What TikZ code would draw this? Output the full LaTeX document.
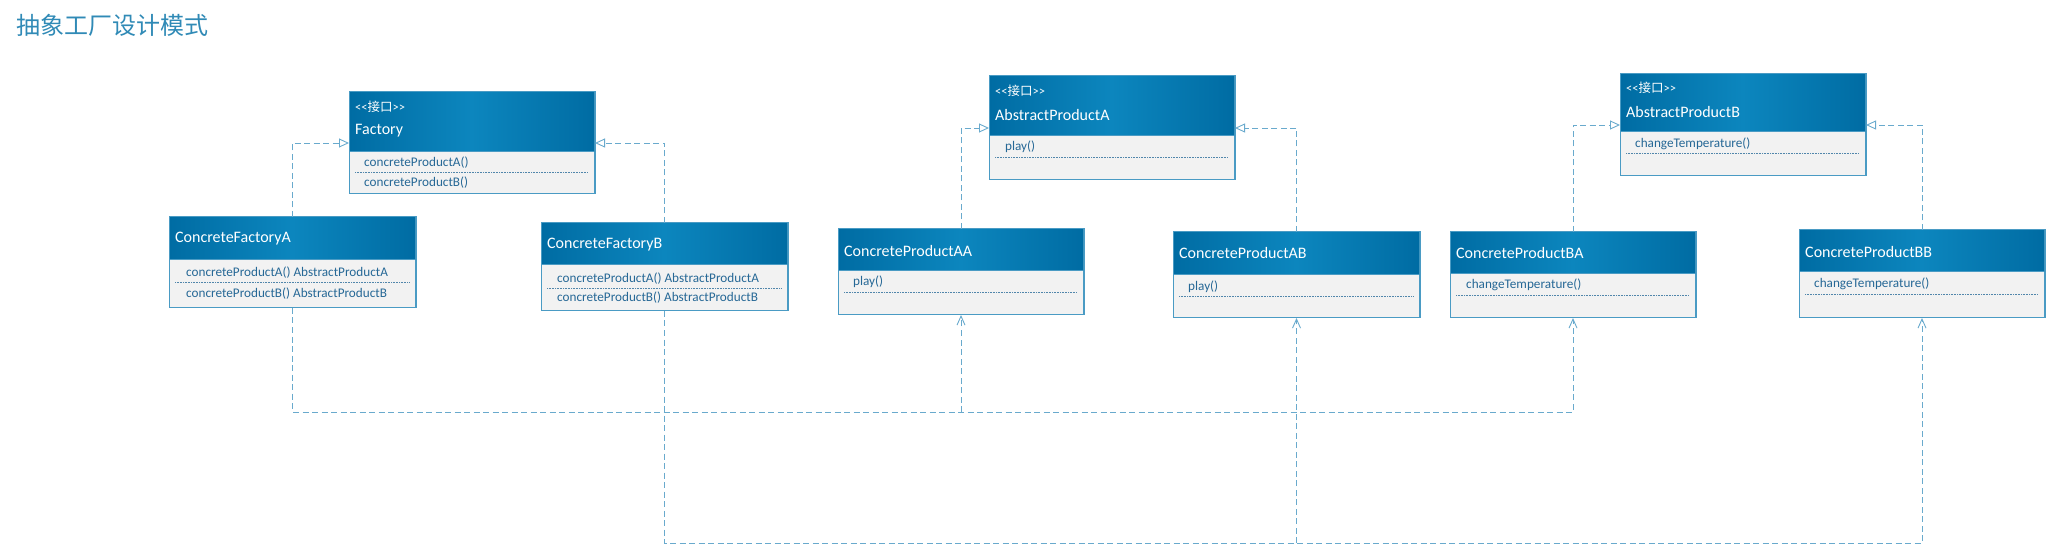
\documentclass[tikz,border=0pt]{standalone}
\usepackage{fontspec}
\setmainfont{Carlito}
\newfontfamily\cjk{Noto Sans CJK SC}
\usetikzlibrary{arrows.meta}
\definecolor{headdark}{RGB}{0,108,163}
\definecolor{headlight}{RGB}{12,134,190}
\definecolor{bodyfill}{RGB}{242,242,242}
\definecolor{boxline}{RGB}{74,155,196}
\definecolor{methcolor}{RGB}{38,104,150}
\definecolor{linkcolor}{RGB}{105,170,205}
\definecolor{titlecolor}{RGB}{48,138,182}

\tikzset{
  classbox/.style={draw=boxline, fill=bodyfill, line width=1pt, inner sep=0pt, anchor=north west},
  classhead/.style={left color=headdark, right color=headdark, middle color=headlight},
  headtext/.style={anchor=west, inner sep=0pt, text=white, font=\fontsize{16}{19}\selectfont},
  stereo/.style={anchor=west, inner sep=0pt, text=white, font=\fontsize{12.5}{15}\selectfont},
  methtext/.style={anchor=west, inner sep=0pt, text=methcolor, font=\fontsize{13.2}{15}\selectfont},
  sepline/.style={draw=methcolor!80, densely dotted, line width=0.6pt},
  realize/.style={draw=linkcolor, dash pattern=on 6pt off 3.5pt, line width=0.9pt, -{Triangle[open,length=10pt,width=9pt]}},
  usedep/.style={draw=linkcolor, dash pattern=on 6pt off 3.5pt, line width=0.9pt, -{Straight Barb[length=9pt,width=8pt]}},
}

% name, x1, y1, x2, y2, bottom of the header
\newcommand{\umlclass}[6]{%
  \node[classbox, minimum width={#4-#2}, minimum height={#5-#3}] (#1) at (#2,#3) {};
  \shade[classhead] (#1.north west) rectangle (#4,#6);
  \draw[boxline, line width=1pt] (#1.north west) rectangle (#1.south east);
  \draw[boxline, line width=1pt] (#2,#6) -- (#4,#6);
}

\begin{document}
\begin{tikzpicture}[x=1pt,y=-1pt]
  \useasboundingbox (0,0) rectangle (2048,545);
  \node[anchor=west, inner sep=0pt, text=titlecolor, font=\cjk\fontsize{24}{28}\selectfont] (title) at (16,25) {抽象工厂设计模式};

  % factories
  \umlclass{fac}{349}{92}{594}{193}{152}
  \node[stereo] (fac-s) at (355,107) {<\kern0pt<{\cjk 接口}>\kern0pt>};
  \node[headtext] (fac-t) at (355,131) {Factory};
  \node[methtext] (fac-m1) at (364,163) {concreteProductA()};
  \draw[sepline] (355,172) -- (588,172);
  \node[methtext] (fac-m2) at (364,183) {concreteProductB()};

  \umlclass{cfa}{169}{217}{415}{307}{260}
  \node[headtext] (cfa-t) at (175,239) {ConcreteFactoryA};
  \node[methtext] (cfa-m1) at (186,273) {concreteProductA() AbstractProductA};
  \draw[sepline] (175,282) -- (409,282);
  \node[methtext] (cfa-m2) at (186,294) {concreteProductB() AbstractProductB};

  \umlclass{cfb}{541}{223}{787}{310}{265}
  \node[headtext] (cfb-t) at (547,245) {ConcreteFactoryB};
  \node[methtext] (cfb-m1) at (557,279) {concreteProductA() AbstractProductA};
  \draw[sepline] (547,288) -- (781,288);
  \node[methtext] (cfb-m2) at (557,298) {concreteProductB() AbstractProductB};

  % products A
  \umlclass{apa}{989}{76}{1234}{179}{136}
  \node[stereo] (apa-s) at (995,91) {<\kern0pt<{\cjk 接口}>\kern0pt>};
  \node[headtext] (apa-t) at (995,115) {AbstractProductA};
  \node[methtext] (apa-m) at (1005,147) {play()};
  \draw[sepline] (995,157) -- (1228,157);

  \umlclass{caa}{838}{229}{1083}{314}{271}
  \node[headtext] (caa-t) at (844,251) {ConcreteProductAA};
  \node[methtext] (caa-m) at (853,282) {play()};
  \draw[sepline] (844,292) -- (1077,292);

  \umlclass{cab}{1173}{232}{1419}{317}{275}
  \node[headtext] (cab-t) at (1179,253) {ConcreteProductAB};
  \node[methtext] (cab-m) at (1188,287) {play()};
  \draw[sepline] (1179,296) -- (1413,296);

  % products B
  \umlclass{apb}{1620}{74}{1865}{175}{132}
  \node[stereo] (apb-s) at (1626,88) {<\kern0pt<{\cjk 接口}>\kern0pt>};
  \node[headtext] (apb-t) at (1626,112) {AbstractProductB};
  \node[methtext] (apb-m) at (1635,144) {changeTemperature()};
  \draw[sepline] (1626,153) -- (1859,153);

  \umlclass{cba}{1450}{232}{1695}{317}{274}
  \node[headtext] (cba-t) at (1456,253) {ConcreteProductBA};
  \node[methtext] (cba-m) at (1466,285) {changeTemperature()};
  \draw[sepline] (1456,295) -- (1689,295);

  \umlclass{cbb}{1799}{230}{2044}{317}{272}
  \node[headtext] (cbb-t) at (1805,252) {ConcreteProductBB};
  \node[methtext] (cbb-m) at (1814,284) {changeTemperature()};
  \draw[sepline] (1805,294) -- (2038,294);

  % realizations
  \draw[realize] (cfa.north) |- (fac.west);
  \draw[realize] (cfb.north) |- (fac.east);
  \draw[realize] (caa.north) |- (apa.west);
  \draw[realize] (cab.north) |- (apa.east);
  \draw[realize] (cba.north) |- (apb.west);
  \draw[realize] (cbb.north) |- (apb.east);

  % dependencies
  \coordinate (busA) at (0,412);
  \coordinate (busB) at (0,543);
  \draw[usedep] (cfa.south) -- (cfa.south |- busA) -| (cba.south);
  \draw[usedep] (caa.south |- busA) -- (caa.south);
  \draw[usedep] (cfb.south) -- (cfb.south |- busB) -| (cbb.south);
  \draw[usedep] (cab.south |- busB) -- (cab.south);
\end{tikzpicture}
\end{document}
